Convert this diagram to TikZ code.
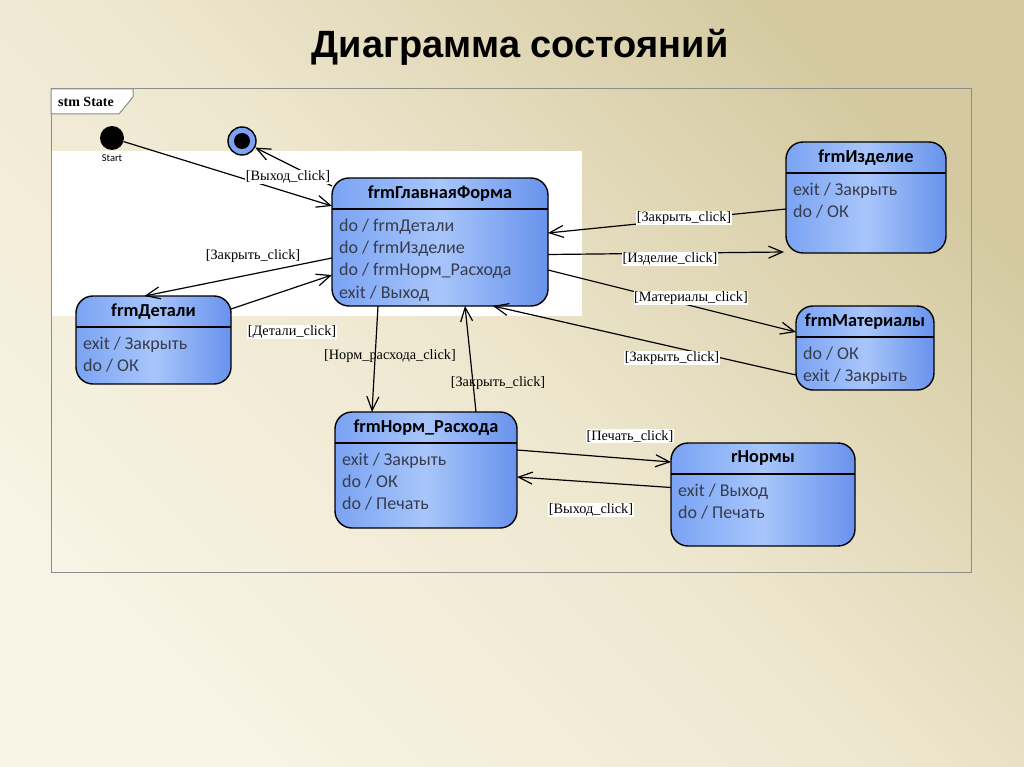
\documentclass[tikz,border=0pt]{standalone}
\usepackage{fontspec}
\setmainfont{Liberation Serif}
\newfontfamily\calibri{Carlito}
\newfontfamily\arial{Liberation Sans}
\usetikzlibrary{arrows.meta}

\definecolor{stateL}{RGB}{122,163,243}
\definecolor{stateM}{RGB}{168,198,251}
\definecolor{stateR}{RGB}{104,146,236}
\definecolor{acttext}{RGB}{55,60,75}
\definecolor{bgdark}{RGB}{212,201,160}
\definecolor{bgmid}{RGB}{238,231,207}
\definecolor{bglight}{RGB}{248,243,228}
\definecolor{framegray}{RGB}{140,140,140}

\begin{document}
\begin{tikzpicture}[
        x=1pt, y=-1pt,
        state/.style={draw=black, line width=1.4pt, rounded corners=17pt,
            left color=stateL, right color=stateR, middle color=stateM,
            anchor=north west, inner sep=0pt, outer sep=0pt},
        sep/.style={draw=black, line width=1.2pt},
        stitle/.style={font=\calibri\bfseries\fontsize{18.3}{22}\selectfont,
            inner sep=0pt},
        sbody/.style={font=\calibri\fontsize{18}{22.3}\selectfont,
            text=acttext, align=left, anchor=north west, inner sep=0pt},
        tr/.style={line width=1.2pt,
            -{Straight Barb[length=14pt,width=12pt]}},
        lbl/.style={font=\fontsize{14.3}{16}\selectfont, fill=white,
            inner sep=0.6pt},
        lblclear/.style={font=\fontsize{14.3}{16}\selectfont, inner sep=0.6pt}
    ]
        \useasboundingbox (0,0) rectangle (1024,767);
        \shade[top color=bgdark, bottom color=bglight, middle color=bgmid,
            shading angle=-45] (0,0) rectangle (1024,767);
        \node[font=\arial\bfseries\fontsize{38}{44}\selectfont, anchor=base]
            (title) at (520,58) {Диаграмма состояний};

        % frame
        \fill[white] (51,151) rectangle (582,316);
        \draw[framegray, line width=1pt] (51,89) rectangle (971,572);
        \draw[framegray, line width=1pt, fill=white]
            (51,89) -- (133,89) -- (133,97) -- (119,114) -- (51,114) -- cycle;
        \node[font=\bfseries\fontsize{14}{16}\selectfont] (stm) at (86,102) {stm State};

        % pseudo states
        \node[circle, fill=black, minimum size=24pt, inner sep=0pt] (start) at (112,138) {};
        \node[font=\calibri\fontsize{10.5}{12}\selectfont] (startlbl) at (112,158) {Start};
        \node[circle, draw=black, line width=1.4pt, fill=stateL, minimum size=28pt,
            inner sep=0pt] (fin) at (242,141) {};
        \node[circle, fill=black, minimum size=16pt, inner sep=0pt] (finin) at (fin) {};

        % states
        \node[state, minimum width=216pt, minimum height=128pt] (main) at (332,178) {};
        \node[state, minimum width=160pt, minimum height=111pt] (izd) at (786,142) {};
        \node[state, minimum width=138pt, minimum height=84pt] (mat) at (796,306) {};
        \node[state, minimum width=155pt, minimum height=88pt] (det) at (76,296) {};
        \node[state, minimum width=182pt, minimum height=116pt] (norm) at (335,412) {};
        \node[state, minimum width=184pt, minimum height=103pt] (rnorm) at (671,443) {};
        \foreach \s in {main,izd,mat,det,norm,rnorm}
            \draw[sep] ([yshift=-31pt]\s.north west) -- ([yshift=-31pt]\s.north east);

        \node[stitle] (main-t) at ([yshift=-15.5pt]main.north) {frmГлавнаяФорма};
        \node[sbody] (main-b) at ([xshift=7pt,yshift=-37.5pt]main.north west)
            {\strut do / frmДетали\\do / frmИзделие\\do / frmНорм\_Расхода\\exit / Выход};
        \node[stitle] (izd-t) at ([yshift=-15.5pt]izd.north) {frmИзделие};
        \node[sbody] (izd-b) at ([xshift=7pt,yshift=-37.5pt]izd.north west)
            {\strut exit / Закрыть\\do / ОК};
        \node[stitle] (mat-t) at ([yshift=-15.5pt]mat.north) {frmМатериалы};
        \node[sbody] (mat-b) at ([xshift=7pt,yshift=-37.5pt]mat.north west)
            {\strut do / ОК\\exit / Закрыть};
        \node[stitle] (det-t) at ([yshift=-15.5pt]det.north) {frmДетали};
        \node[sbody] (det-b) at ([xshift=7pt,yshift=-37.5pt]det.north west)
            {\strut exit / Закрыть\\do / ОК};
        \node[stitle] (norm-t) at ([yshift=-15.5pt]norm.north) {frmНорм\_Расхода};
        \node[sbody] (norm-b) at ([xshift=7pt,yshift=-37.5pt]norm.north west)
            {\strut exit / Закрыть\\do / ОК\\do / Печать};
        \node[stitle] (rnorm-t) at ([yshift=-15.5pt]rnorm.north) {rНормы};
        \node[sbody] (rnorm-b) at ([xshift=7pt,yshift=-37.5pt]rnorm.north west)
            {\strut exit / Выход\\do / Печать};

        % transitions
        \draw[tr] (start) -- ([yshift=-28pt]main.north west);
        \draw[tr] ([yshift=-8pt]main.north west) -- (fin);
        \draw[tr] ([yshift=-16pt]main.west) -- ([xshift=-9pt]det.north);
        \draw[tr] ([yshift=-13pt]det.north east) -- ([yshift=-33pt]main.west);
        \draw[tr] ([xshift=-62pt]main.south) -- ([xshift=-54pt]norm.north);
        \draw[tr] ([xshift=50pt]norm.north) -- ([xshift=25pt]main.south);
        \draw[tr] ([yshift=-11.5pt]izd.west) -- ([yshift=9pt]main.east);
        \draw[tr] ([yshift=-12.5pt]main.east) -- ([xshift=-2pt,yshift=1pt]izd.south west);
        \draw[tr] ([yshift=-28pt]main.east) -- ([yshift=-26pt]mat.north west);
        \draw[tr] ([yshift=-27pt]mat.west) -- ([xshift=53pt]main.south);
        \draw[tr] ([yshift=20pt]norm.east) -- ([yshift=-19pt]rnorm.north west);
        \draw[tr] ([yshift=7pt]rnorm.west) -- ([yshift=-7pt]norm.east);

        % guards
        \node[lbl] (g-exit) at (288,177) {[Выход\_click]};
        \node[lbl] (g-close1) at (253,256) {[Закрыть\_click]};
        \node[lbl] (g-det) at (292,332) {[Детали\_click]};
        \node[lblclear] (g-norm) at (390,356) {[Норм\_расхода\_click]};
        \node[lblclear] (g-close2) at (498,383) {[Закрыть\_click]};
        \node[lbl] (g-close3) at (684,218) {[Закрыть\_click]};
        \node[lbl] (g-izd) at (670,259) {[Изделие\_click]};
        \node[lbl] (g-mat) at (691,298) {[Материалы\_click]};
        \node[lbl] (g-close4) at (672,358) {[Закрыть\_click]};
        \node[lbl] (g-print) at (630,436) {[Печать\_click]};
        \node[lbl] (g-exit2) at (591,510) {[Выход\_click]};
\end{tikzpicture}
\end{document}
